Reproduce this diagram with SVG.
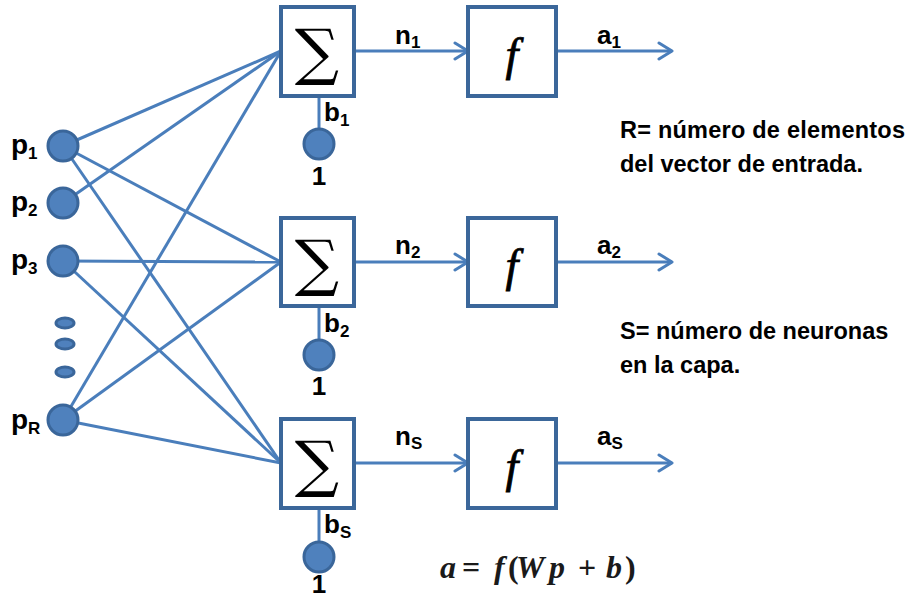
<svg xmlns="http://www.w3.org/2000/svg" width="911" height="598" viewBox="0 0 911 598">
<defs>
<marker id="arr" markerUnits="userSpaceOnUse" markerWidth="20" markerHeight="22" refX="15" refY="10" orient="auto">
<path d="M2,2 L15,10 L2,18" fill="none" stroke="#4a7ebb" stroke-width="3" stroke-linecap="round" stroke-linejoin="round"/>
</marker>
</defs>
<style>
.box{fill:#fff;stroke:#3b679a;stroke-width:4}
.node{fill:#4f81bd;stroke:#3a669a;stroke-width:3}
.ln{stroke:#4a7ebb;stroke-width:3;fill:none}
.lbl{font-family:"Liberation Sans",Arial,sans-serif;font-weight:bold;fill:#000}
.big{font-size:26px}
.pl{font-size:28px}
.sub{font-size:17px}
.note{font-family:"Liberation Sans",Arial,sans-serif;font-weight:bold;font-size:23.5px;fill:#000}
.sig{font-family:"DejaVu Serif","Liberation Serif",serif;font-size:62px;fill:#000}
.fn{font-family:"Liberation Serif","DejaVu Serif",serif;font-style:italic;font-size:46px;fill:#000;stroke:#000;stroke-width:0.8}
.eq{font-family:"Liberation Serif","DejaVu Serif",serif;font-style:italic;font-weight:bold;font-size:32px;fill:#1a1a1a}
.up{font-style:normal}
</style>
<rect width="911" height="598" fill="#fff"/>
<g id="connectors">
<line class="ln" x1="63" y1="146" x2="281" y2="51"/>
<line class="ln" x1="63" y1="146" x2="281" y2="262"/>
<line class="ln" x1="63" y1="146" x2="281" y2="463"/>
<line class="ln" x1="63" y1="203" x2="281" y2="51"/>
<line class="ln" x1="63" y1="261" x2="281" y2="262"/>
<line class="ln" x1="63" y1="261" x2="281" y2="463"/>
<line class="ln" x1="63" y1="420" x2="281" y2="51"/>
<line class="ln" x1="63" y1="420" x2="281" y2="262"/>
<line class="ln" x1="63" y1="420" x2="281" y2="463"/>
<line class="ln" x1="355" y1="51" x2="468" y2="51" marker-end="url(#arr)"/>
<line class="ln" x1="557" y1="51" x2="672" y2="51" marker-end="url(#arr)"/>
<line class="ln" x1="355" y1="262" x2="468" y2="262" marker-end="url(#arr)"/>
<line class="ln" x1="557" y1="262" x2="672" y2="262" marker-end="url(#arr)"/>
<line class="ln" x1="355" y1="463" x2="468" y2="463" marker-end="url(#arr)"/>
<line class="ln" x1="557" y1="463" x2="672" y2="463" marker-end="url(#arr)"/>
<line class="ln" x1="319" y1="97" x2="319" y2="130"/>
<line class="ln" x1="319" y1="306" x2="319" y2="341"/>
<line class="ln" x1="319" y1="508" x2="319" y2="543"/>
</g>
<g id="input-p1"><circle class="node" cx="63" cy="146" r="15"/><text class="lbl pl" x="11" y="154">p<tspan class="sub" dy="5">1</tspan></text></g>
<g id="input-p2"><circle class="node" cx="63" cy="203" r="15"/><text class="lbl pl" x="11" y="211">p<tspan class="sub" dy="5">2</tspan></text></g>
<g id="input-p3"><circle class="node" cx="63" cy="261" r="15"/><text class="lbl pl" x="11" y="269">p<tspan class="sub" dy="5">3</tspan></text></g>
<g id="ellipsis">
<ellipse class="node" cx="65" cy="323" rx="9" ry="5"/>
<ellipse class="node" cx="65" cy="344" rx="9" ry="5"/>
<ellipse class="node" cx="65" cy="372" rx="9" ry="5"/>
</g>
<g id="input-pR"><circle class="node" cx="63" cy="420" r="15"/><text class="lbl pl" x="11" y="429">p<tspan class="sub" dy="5">R</tspan></text></g>

<g id="sum1"><rect class="box" x="281" y="7" width="73" height="89"/><text class="sig" x="317" y="73" text-anchor="middle">∑</text></g>
<g id="sum2"><rect class="box" x="281" y="218" width="73" height="88"/><text class="sig" x="317" y="284" text-anchor="middle">∑</text></g>
<g id="sum3"><rect class="box" x="281" y="419" width="73" height="89"/><text class="sig" x="317" y="485" text-anchor="middle">∑</text></g>

<g id="f1"><rect class="box" x="468" y="7" width="88" height="89"/><text class="fn" x="512" y="70" text-anchor="middle">f</text></g>
<g id="f2"><rect class="box" x="468" y="218" width="88" height="88"/><text class="fn" x="512" y="281" text-anchor="middle">f</text></g>
<g id="f3"><rect class="box" x="468" y="419" width="88" height="89"/><text class="fn" x="512" y="482" text-anchor="middle">f</text></g>

<g id="bias1"><circle class="node" cx="319" cy="144" r="15"/><text class="lbl big" x="324" y="121">b<tspan class="sub" dy="5">1</tspan></text><text class="lbl big" x="319" y="185" text-anchor="middle">1</text></g>
<g id="bias2"><circle class="node" cx="319" cy="355" r="15"/><text class="lbl big" x="324" y="332">b<tspan class="sub" dy="5">2</tspan></text><text class="lbl big" x="319" y="395" text-anchor="middle">1</text></g>
<g id="bias3"><circle class="node" cx="319" cy="557" r="15"/><text class="lbl big" x="324" y="533">b<tspan class="sub" dy="5">S</tspan></text><text class="lbl big" x="319" y="593" text-anchor="middle">1</text></g>

<g id="labels">
<text class="lbl big" x="395" y="44">n<tspan class="sub" dy="4">1</tspan></text>
<text class="lbl big" x="597" y="44">a<tspan class="sub" dy="4">1</tspan></text>
<text class="lbl big" x="395" y="254">n<tspan class="sub" dy="4">2</tspan></text>
<text class="lbl big" x="597" y="254">a<tspan class="sub" dy="4">2</tspan></text>
<text class="lbl big" x="395" y="445">n<tspan class="sub" dy="4">S</tspan></text>
<text class="lbl big" x="597" y="445">a<tspan class="sub" dy="4">S</tspan></text>
</g>
<g id="notes">
<text class="note" x="620" y="138" textLength="285" lengthAdjust="spacing">R= número de elementos</text>
<text class="note" x="620" y="172">del vector de entrada.</text>
<text class="note" x="620" y="339">S= número de neuronas</text>
<text class="note" x="620" y="373">en la capa.</text>
<text class="eq" y="578"><tspan x="440">a</tspan><tspan class="up" x="462">=</tspan><tspan x="494">f</tspan><tspan class="up" x="508">(</tspan><tspan x="516">W</tspan><tspan x="549">p</tspan><tspan class="up" x="578">+</tspan><tspan x="606">b</tspan><tspan class="up" x="625">)</tspan></text>
</g>
</svg>
